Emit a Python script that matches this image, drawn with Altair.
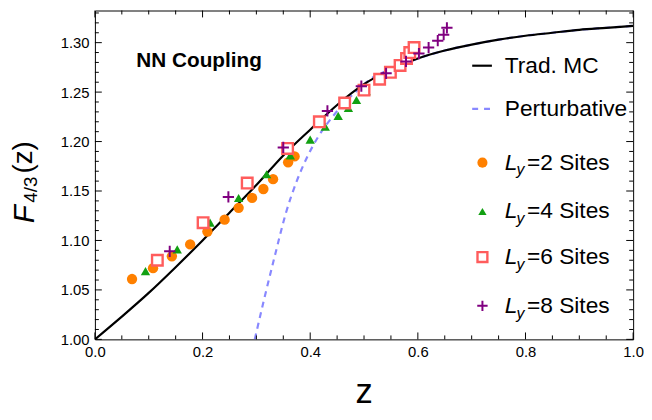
import altair as alt
import pandas as pd

# ---------------- data ----------------
mc_z = [0.00, 0.05, 0.10, 0.15, 0.20, 0.25, 0.30, 0.35, 0.40, 0.45, 0.50,
        0.55, 0.60, 0.65, 0.70, 0.75, 0.80, 0.85, 0.90, 0.95, 1.00]
mc_f = [1.000, 1.023, 1.047, 1.073, 1.100, 1.128, 1.156, 1.186, 1.212, 1.237, 1.258,
        1.273, 1.284, 1.292, 1.298, 1.303, 1.307, 1.310, 1.313, 1.315, 1.317]

pert_z = [0.297, 0.315, 0.335, 0.355, 0.375, 0.395, 0.415, 0.440, 0.465, 0.490, 0.520,
          0.55, 0.60, 0.65, 0.70, 0.75, 0.80, 0.85, 0.90, 0.95, 1.00]
pert_f = [1.000, 1.042, 1.086, 1.128, 1.160, 1.185, 1.205, 1.224, 1.240, 1.253, 1.266,
          1.273, 1.284, 1.292, 1.298, 1.303, 1.307, 1.310, 1.313, 1.315, 1.317]

ly2_z = [0.069, 0.108, 0.143, 0.177, 0.209, 0.241, 0.267, 0.292, 0.313, 0.331, 0.359, 0.371]
ly2_f = [1.061, 1.072, 1.084, 1.096, 1.109, 1.121, 1.133, 1.143, 1.152, 1.162, 1.179, 1.185]

ly4_z = [0.094, 0.153, 0.214, 0.267, 0.319, 0.363, 0.400, 0.428, 0.452, 0.471, 0.486, 0.504]
ly4_f = [1.069, 1.091, 1.118, 1.143, 1.167, 1.186, 1.202, 1.215, 1.226, 1.234, 1.242, 1.251]

ly6_z = [0.116, 0.201, 0.283, 0.358, 0.417, 0.464, 0.500, 0.529, 0.549, 0.567, 0.579, 0.585, 0.593]
ly6_f = [1.080, 1.118, 1.158, 1.193, 1.220, 1.239, 1.252, 1.263, 1.270, 1.277, 1.284, 1.290, 1.295]

ly8_z = [0.139, 0.248, 0.350, 0.432, 0.495, 0.541, 0.578, 0.602, 0.620, 0.637, 0.648, 0.654]
ly8_f = [1.089, 1.144, 1.194, 1.231, 1.256, 1.269, 1.281, 1.289, 1.295, 1.302, 1.308, 1.315]

x_major = [0.0, 0.2, 0.4, 0.6, 0.8, 1.0]
x_minor = [0.05, 0.10, 0.15, 0.25, 0.30, 0.35, 0.45, 0.50, 0.55, 0.65, 0.70, 0.75,
           0.85, 0.90, 0.95]
y_major = [1.00, 1.05, 1.10, 1.15, 1.20, 1.25, 1.30]
y_minor = [1.01, 1.02, 1.03, 1.04, 1.06, 1.07, 1.08, 1.09, 1.11, 1.12, 1.13, 1.14,
           1.16, 1.17, 1.18, 1.19, 1.21, 1.22, 1.23, 1.24, 1.26, 1.27, 1.28, 1.29,
           1.31, 1.32, 1.33]

legend_sites = ["2", "4", "6", "8"]

# ---------------- layout / style ----------------
W, H = 545, 333
FONT = "Liberation Sans"
X_DOM = [0.0, 1.0]
Y_DOM = [1.0, 1.3325]
C_MC = "#000000"
C_PERT = "#8888ff"
C2, C4, C6, C8 = "#ff8000", "#12a012", "#ff5c5c", "#800080"
PLUS = "M-1,0L1,0M0,-1L0,1"

xs = alt.Scale(domain=X_DOM, nice=False, zero=False)
ys = alt.Scale(domain=Y_DOM, nice=False, zero=False)


def ypix(ref_y):
    # reference page y (plot top 4, bottom 341) -> this chart's plot pixel y
    return (ref_y - 4) * H / 337.0


one = pd.DataFrame({"k": [0]})
mc = pd.DataFrame({"z": mc_z, "f": mc_f})
pert = pd.DataFrame({"z": pert_z, "f": pert_f})

X = alt.X("z:Q", scale=xs,
          axis=alt.Axis(values=x_major, format=".1f", title=None, grid=False,
                        ticks=False, domain=False, labelFlush=False,
                        labelOverlap=False, labelPadding=5))
Y = alt.Y("f:Q", scale=ys,
          axis=alt.Axis(values=y_major, format=".2f", title=None, grid=False,
                        ticks=False, domain=False, labelPadding=6,
                        labelOverlap=False))

base_pert = alt.Chart(pert).mark_line(
    color=C_PERT, strokeWidth=2.2, strokeDash=[6, 5], interpolate="monotone", clip=True
).encode(x=X, y=Y)

base_mc = alt.Chart(mc).mark_line(
    color=C_MC, strokeWidth=2.2, interpolate="monotone", clip=True
).encode(x=alt.X("z:Q", scale=xs), y=alt.Y("f:Q", scale=ys))


def pts(zs, fs, **kw):
    d = pd.DataFrame({"z": zs, "f": fs})
    return alt.Chart(d).mark_point(**kw).encode(
        x=alt.X("z:Q", scale=xs), y=alt.Y("f:Q", scale=ys))


p2 = pts(ly2_z, ly2_f, shape="circle", filled=True, color=C2, size=110, opacity=1)
p4 = pts(ly4_z, ly4_f, shape="triangle-up", filled=True, color=C4, size=90, opacity=1)
p6 = pts(ly6_z, ly6_f, shape="square", filled=True, fill="white", stroke=C6,
         strokeWidth=2.4, size=115, opacity=1)
p8 = pts(ly8_z, ly8_f, shape=PLUS, filled=False, stroke=C8, strokeWidth=2,
         size=130, opacity=1)


# ---------------- frame ticks (inward, on all four sides) ----------------
def xticks(vals, L):
    d = pd.DataFrame({"t": vals})
    b = alt.Chart(d).mark_rule(color="black", strokeWidth=1)
    return [b.encode(x=alt.X("t:Q", scale=xs), y=alt.value(H), y2=alt.value(H - L)),
            b.encode(x=alt.X("t:Q", scale=xs), y=alt.value(0), y2=alt.value(L))]


def yticks(vals, L):
    d = pd.DataFrame({"t": vals})
    b = alt.Chart(d).mark_rule(color="black", strokeWidth=1)
    return [b.encode(y=alt.Y("t:Q", scale=ys), x=alt.value(0), x2=alt.value(L)),
            b.encode(y=alt.Y("t:Q", scale=ys), x=alt.value(W), x2=alt.value(W - L))]


ticks = xticks(x_major, 7) + xticks(x_minor, 4) + yticks(y_major, 7) + yticks(y_minor, 4)


# ---------------- annotations ----------------
def dtext(xd, yd, s, size, dx=0, dy=0, style="normal", weight="normal"):
    return alt.Chart(one).mark_text(
        text=s, font=FONT, fontSize=size, fontStyle=style, fontWeight=weight,
        align="left", baseline="middle", dx=dx, dy=dy, color="black"
    ).encode(x=alt.datum(xd), y=alt.datum(yd))


nn = dtext(0.077, 1.2815, "NN Coupling", 21, weight="bold")

LEG_SYM_X = 0.72
LEG_X0, LEG_X1 = 0.701, 0.7376
LEG_TX = 0.7615
leg_y = [1.2767, 1.233, 1.1787, 1.1293, 1.0832, 1.0339]

leg = []
leg.append(alt.Chart(one).mark_rule(color=C_MC, strokeWidth=2.2).encode(
    x=alt.datum(LEG_X0), x2=alt.datum(LEG_X1), y=alt.datum(leg_y[0])))
leg.append(alt.Chart(one).mark_rule(color=C_PERT, strokeWidth=2.2, strokeDash=[6, 6]).encode(
    x=alt.datum(LEG_X0), x2=alt.datum(LEG_X1), y=alt.datum(leg_y[1])))
leg.append(dtext(LEG_TX, leg_y[0], "Trad. MC", 23))
leg.append(dtext(LEG_TX, leg_y[1], "Perturbative", 23))

sym_kw = [
    dict(shape="circle", filled=True, color=C2, size=105, opacity=1),
    dict(shape="triangle-up", filled=True, color=C4, size=70, opacity=1),
    dict(shape="square", filled=True, fill="white", stroke=C6, strokeWidth=2.4, size=100, opacity=1),
    dict(shape=PLUS, filled=False, stroke=C8, strokeWidth=2, size=110, opacity=1),
]
for i, (kw, n) in enumerate(zip(sym_kw, legend_sites)):
    yy = leg_y[2 + i]
    leg.append(alt.Chart(one).mark_point(**kw).encode(x=alt.datum(LEG_SYM_X), y=alt.datum(yy)))
    leg.append(dtext(LEG_TX, yy, "L", 23, style="italic"))
    leg.append(dtext(LEG_TX, yy, "y", 16, dx=12, dy=8, style="italic"))
    leg.append(dtext(LEG_TX, yy, "=" + n + " Sites", 23, dx=22.5))


# axis titles (outside the plot, pixel positions)
def ptext(px, py, s, size, style="normal", angle=0, align="left", baseline="alphabetic"):
    return alt.Chart(one).mark_text(
        text=s, font=FONT, fontSize=size, fontStyle=style, angle=angle,
        align=align, baseline=baseline, color="black"
    ).encode(x=alt.value(px), y=alt.value(py))


ytitle = [
    ptext(34 - 96, ypix(222), "F", 30, style="italic", angle=270),
    ptext(37 - 96, ypix(201), "4/3", 19, angle=270),
    ptext(32 - 96, ypix(171), "(z)", 28, angle=270),
]
xtitle = ptext(W / 2, 405 - 8, "z", 35, align="center")

chart = alt.layer(
    base_pert, base_mc, p2, p4, p6, p8, *ticks, nn, *leg, *ytitle, xtitle
).properties(
    width=W, height=H,
    autosize=alt.AutoSizeParams(type="none"),
    padding={"left": 88, "top": 0, "right": 11, "bottom": 71},
).configure_view(
    stroke="black", strokeWidth=1
).configure_axis(
    labelFont=FONT, labelFontSize=15, labelColor="black"
)

chart.save("out.html", embed_options={"renderer": "svg", "actions": False})
